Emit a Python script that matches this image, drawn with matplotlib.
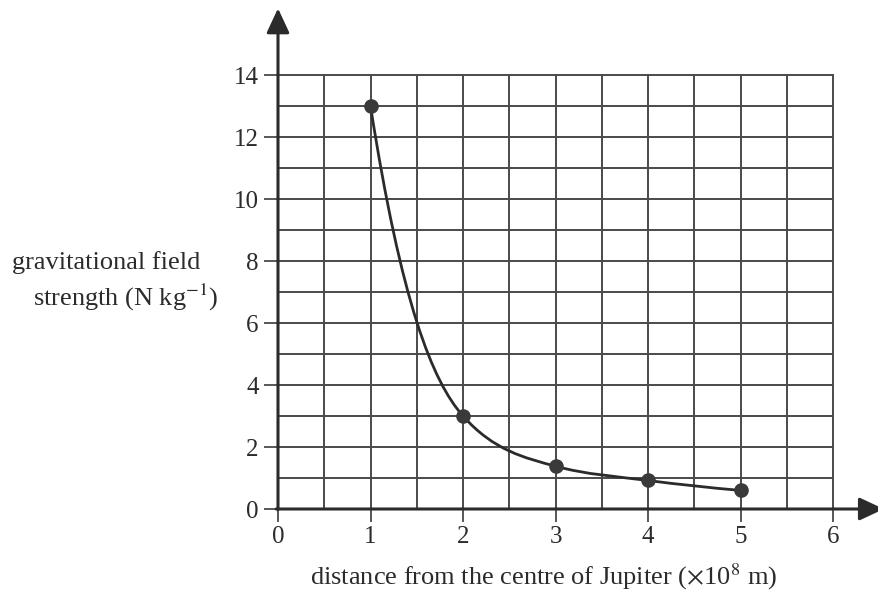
import matplotlib
matplotlib.use('Agg')
import matplotlib.pyplot as plt
import numpy as np
from matplotlib.path import Path
from matplotlib.patches import PathPatch

plt.rcParams['font.family'] = ['Liberation Serif', 'DejaVu Serif']
plt.rcParams['mathtext.fontset'] = 'stix'

# данные с графика
dist = [1, 2, 3, 4, 5]                 # x 10^8 m
field = [13.0, 3.0, 1.38, 0.92, 0.6]   # N/kg
x_ticks = [0, 1, 2, 3, 4, 5, 6]
y_ticks = [0, 2, 4, 6, 8, 10, 12, 14]

ink = '#2b2b2b'
grid_c = '#4a4a4a'
fs = 18

fig = plt.figure(figsize=(8.79, 5.91), dpi=100)
ax = fig.add_axes([278/879, 82/591, (879-278)/879, (591-82)/591])
ax.set_xlim(0, 6.497)
ax.set_ylim(0, 16.42)
for s in ax.spines.values():
    s.set_visible(False)

# сетка: вертикальные через 0.5, горизонтальные через 1
for gx in np.arange(0.5, 6.01, 0.5):
    ax.plot([gx, gx], [0, 14], color=grid_c, lw=1.4, zorder=1)
for gy in range(1, 15):
    ax.plot([0, 6], [gy, gy], color=grid_c, lw=1.4, zorder=1)

# оси со стрелками
arr = dict(arrowstyle='-|>,head_length=0.75,head_width=0.35',
           color=ink, lw=2.2, mutation_scale=20, shrinkA=0, shrinkB=0)
ax.annotate('', xy=(0, 16.15), xytext=(0, -0.02), arrowprops=arr,
            annotation_clip=False, zorder=3)
ax.annotate('', xy=(6.55, 0), xytext=(-0.02, 0), arrowprops=arr,
            annotation_clip=False, zorder=3)

ax.set_xticks(x_ticks)
ax.set_yticks(y_ticks)
ax.tick_params(axis='y', direction='out', length=10, width=1.3, color=grid_c,
               labelsize=fs, labelcolor=ink, pad=4)
ax.tick_params(axis='x', direction='out', length=9, width=1.3, color=grid_c,
               labelsize=fs, labelcolor=ink, pad=3)

# гладкая кривая: кубические Безье, касательные оценены в лог-масштабе по y
xs = np.array(dist, dtype=float)
ys = np.array(field)
ly = np.log(ys)
dl = np.gradient(ly, xs, edge_order=1)
dl[0] = (ly[1] - ly[0]) / (xs[1] - xs[0])
slope = ys * dl
verts = [(xs[0], ys[0])]
codes = [Path.MOVETO]
for i in range(len(xs) - 1):
    h = xs[i + 1] - xs[i]
    verts += [(xs[i] + h/3, ys[i] + slope[i]*h/3),
              (xs[i+1] - h/3, ys[i+1] - slope[i+1]*h/3),
              (xs[i+1], ys[i+1])]
    codes += [Path.CURVE4] * 3
ax.add_patch(PathPatch(Path(verts, codes), fill=False, edgecolor=ink, lw=2.0, zorder=4))

ax.plot(dist, field, 'o', color='#3a3a3a', markersize=9.5, zorder=5)

fig.text(544/879, 1 - 577/591, r'distance from the centre of Jupiter ($\times$10$^{8}$ m)',
         ha='center', va='center', fontsize=19, color=ink)
fig.text(106/879, 1 - 263/591, 'gravitational field', ha='center', va='center',
         fontsize=19, color=ink)
fig.text(126/879, 1 - 297/591, r'strength (N kg$^{-1}$)', ha='center', va='center',
         fontsize=19, color=ink)

fig.savefig('out.png', dpi=100)
